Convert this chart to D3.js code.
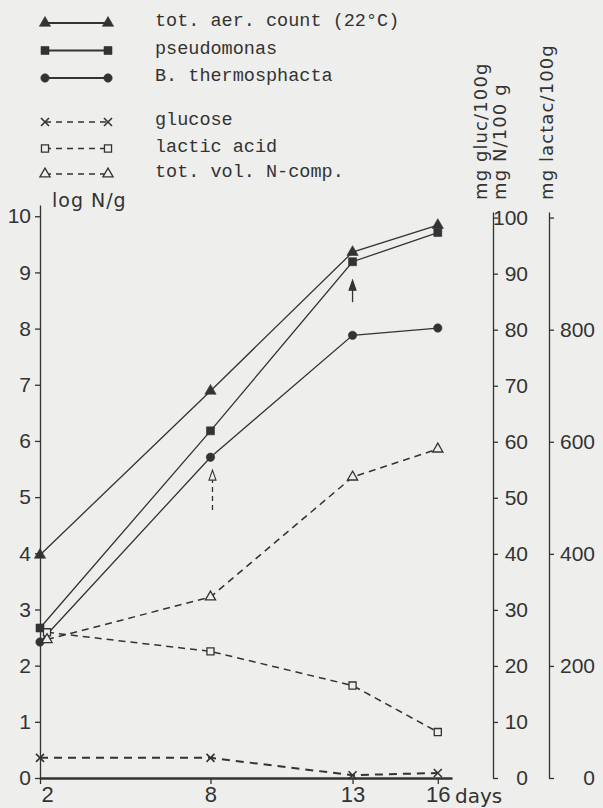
<!DOCTYPE html>
<html>
<head>
<meta charset="utf-8">
<script src="https://cdn.jsdelivr.net/npm/d3@7"></script>
<style>
body { margin: 0; background: #eeeeec; }
svg { display: block; }
</style>
</head>
<body>
<svg id="chart"></svg>
<script>
// values
const days = [2, 8, 13, 16];
const totAerCount = [3.97, 6.89, 9.36, 9.84];      // log N/g
const pseudomonas = [2.67, 6.18, 9.19, 9.71];      // log N/g
const bThermosphacta = [2.42, 5.71, 7.88, 8.01];   // log N/g
const glucose = [3.6, 3.6, 0.5, 0.9];              // mg gluc/100 g
const lacticAcid = [260, 226, 165, 82];            // mg lactac/100 g
const totVolN = [24.7, 32.3, 53.7, 58.7];          // mg N/100 g

const legendLabels = ["tot. aer. count (22°C)", "pseudomonas", "B. thermosphacta",
    "glucose", "lactic acid", "tot. vol. N-comp."];
const dayTicks = [2, 8, 13, 16];
const logTicks = [0, 1, 2, 3, 4, 5, 6, 7, 8, 9, 10];
const mgTicks = [0, 10, 20, 30, 40, 50, 60, 70, 80, 90, 100];
const lactTicks = [0, 200, 400, 600, 800, 1000];
// arrows drawn in the figure (log N/g units)
const arrowDays = [8, 13];
const arrowFrom = [4.77, 8.47];
const arrowTo = [5.48, 8.86];

let width = 603, height = 808;
let ink = "#333";
let paper = "#eeeeec";

let svg = d3.select("#chart").attr("width", width).attr("height", height);
svg.append("rect").attr("width", width).attr("height", height).attr("fill", paper);

let x = d3.scaleLinear().domain([2, 16.5]).range([40, 452]);
let yLog = d3.scaleLinear().domain([0, 10.2]).range([778, 205]);
let yMg = d3.scaleLinear().domain([0, 101]).range([778, 212]);
let yLact = d3.scaleLinear().domain([0, 1010]).range([778, 212]);

let series = [
    {values: totAerCount, scale: yLog, symbol: "triangle", filled: true, dash: null},
    {values: pseudomonas, scale: yLog, symbol: "square", filled: true, dash: null},
    {values: bThermosphacta, scale: yLog, symbol: "circle", filled: true, dash: null},
    {values: glucose, scale: yMg, symbol: "x", filled: false, dash: "8,6"},
    {values: lacticAcid, scale: yLact, symbol: "square", filled: false, dash: "7,5"},
    {values: totVolN, scale: yMg, symbol: "triangle", filled: false, dash: "7,5"}
];
series.forEach((s, i) => s.name = legendLabels[i]);

const symbolTypes = {triangle: d3.symbolTriangle, square: d3.symbolSquare, circle: d3.symbolCircle};

function marker(g, type, filled) {
    if (type === "x") {
        g.append("path").attr("d", "M-4,-4L4,4M-4,4L4,-4")
            .attr("fill", "none").attr("stroke", ink).attr("stroke-width", 1.6);
        return;
    }
    let size = filled ? {triangle: 55, square: 64, circle: 55}[type] : {triangle: 45, square: 50}[type];
    g.append("path")
        .attr("d", d3.symbol().type(symbolTypes[type]).size(size))
        .attr("fill", filled ? ink : paper)
        .attr("stroke", ink)
        .attr("stroke-width", filled ? 0.6 : 1.3);
}

// axes
function styleAxis(g, fontSize) {
    g.attr("color", ink);
    g.selectAll("text")
        .attr("font-family", "Liberation Sans, Arial, sans-serif")
        .attr("font-size", fontSize)
        .attr("fill", ink);
    g.selectAll("line").attr("stroke-width", 1.3);
    g.select(".domain").attr("stroke-width", 1.3);
}

let xAxis = svg.append("g")
    .attr("transform", "translate(0,778)")
    .call(d3.axisBottom(x).tickValues(dayTicks).tickSize(6).tickSizeOuter(0).tickPadding(2.5));
styleAxis(xAxis, 22);
xAxis.select(".domain").attr("stroke-width", 2.6);
xAxis.selectAll("text").attr("dx", d => d === 2 ? 7 : 0);

let yAxis = svg.append("g")
    .attr("transform", "translate(40,0)")
    .call(d3.axisLeft(yLog).tickValues(logTicks).tickSize(5).tickSizeOuter(0).tickPadding(4));
styleAxis(yAxis, 21);

let mgAxis = svg.append("g")
    .attr("transform", "translate(493,0)")
    .call(d3.axisRight(yMg).tickValues(mgTicks).tickSize(5).tickSizeOuter(0));
styleAxis(mgAxis, 21);
mgAxis.selectAll("text").attr("text-anchor", "end").attr("x", 35);

let lactAxis = svg.append("g")
    .attr("transform", "translate(549,0)")
    .call(d3.axisRight(yLact).tickValues(lactTicks).tickSize(5).tickSizeOuter(0)
        .tickFormat(d => d === 1000 ? "" : d));
styleAxis(lactAxis, 21);
lactAxis.selectAll("text").attr("text-anchor", "end").attr("x", 46);

// axis titles
let titleFont = "DejaVu Sans, Verdana, sans-serif";
svg.append("text").attr("x", 52).attr("y", 207).text("log N/g")
    .attr("font-family", titleFont).attr("font-size", 19).attr("letter-spacing", 1).attr("fill", ink);
svg.append("text").attr("x", 455).attr("y", 803).text("days")
    .attr("font-family", titleFont).attr("font-size", 20).attr("fill", ink);

let sideTitles = [["mg gluc/100g", 487], ["mg N/100 g", 506], ["mg lactac/100g", 553]];
sideTitles.forEach(t => {
    svg.append("text")
        .attr("transform", `translate(${t[1]},200) rotate(-90)`)
        .text(t[0])
        .attr("font-family", titleFont).attr("font-size", 18).attr("letter-spacing", 1.1)
        .attr("fill", ink);
});

// lines + markers
series.forEach(s => {
    let pts = days.map((d, i) => ({
        px: x(d) + (!s.filled && s.symbol !== "x" && i === 0 ? 7 : 0),
        py: s.scale(s.values[i])
    }));
    svg.append("path")
        .datum(pts)
        .attr("d", d3.line().x(p => p.px).y(p => p.py))
        .attr("fill", "none")
        .attr("stroke", ink)
        .attr("stroke-width", s.dash ? (s.symbol === "x" ? 2 : 1.5) : 1.3)
        .attr("stroke-dasharray", s.dash);
    pts.forEach(p => {
        let g = svg.append("g").attr("transform", `translate(${p.px},${p.py})`);
        marker(g, s.symbol, s.filled);
    });
});

// arrows
arrowDays.forEach((d, i) => {
    let dashed = i === 0;
    let ax = x(d) + (dashed ? 2 : 0);
    let y0 = yLog(arrowFrom[i]), y1 = yLog(arrowTo[i]);
    svg.append("line")
        .attr("x1", ax).attr("x2", ax).attr("y1", y0).attr("y2", y1 + 6)
        .attr("stroke", ink).attr("stroke-width", 1.3)
        .attr("stroke-dasharray", dashed ? "5,4" : null);
    svg.append("path")
        .attr("d", `M${ax},${y1}L${ax - 3.5},${y1 + 10}L${ax + 3.5},${y1 + 10}Z`)
        .attr("fill", dashed ? paper : ink)
        .attr("stroke", ink).attr("stroke-width", 1.1);
});

// legend
let legendBase = [26, 53.5, 81, 125, 151.5, 177];
series.forEach((s, i) => {
    let ly = legendBase[i] - 3;
    svg.append("line")
        .attr("x1", 45).attr("x2", 108).attr("y1", ly).attr("y2", ly)
        .attr("stroke", ink)
        .attr("stroke-width", s.dash ? 1.5 : 1.8)
        .attr("stroke-dasharray", s.dash ? "6,5" : null);
    [45, 108].forEach(lx => {
        let g = svg.append("g").attr("transform", `translate(${lx},${ly})`);
        marker(g, s.symbol, s.filled);
    });
    svg.append("text")
        .attr("x", 155).attr("y", legendBase[i])
        .text(s.name)
        .attr("font-family", "Liberation Mono, Courier New, monospace")
        .attr("font-size", 18.5)
        .attr("fill", ink);
});
</script>
</body>
</html>
